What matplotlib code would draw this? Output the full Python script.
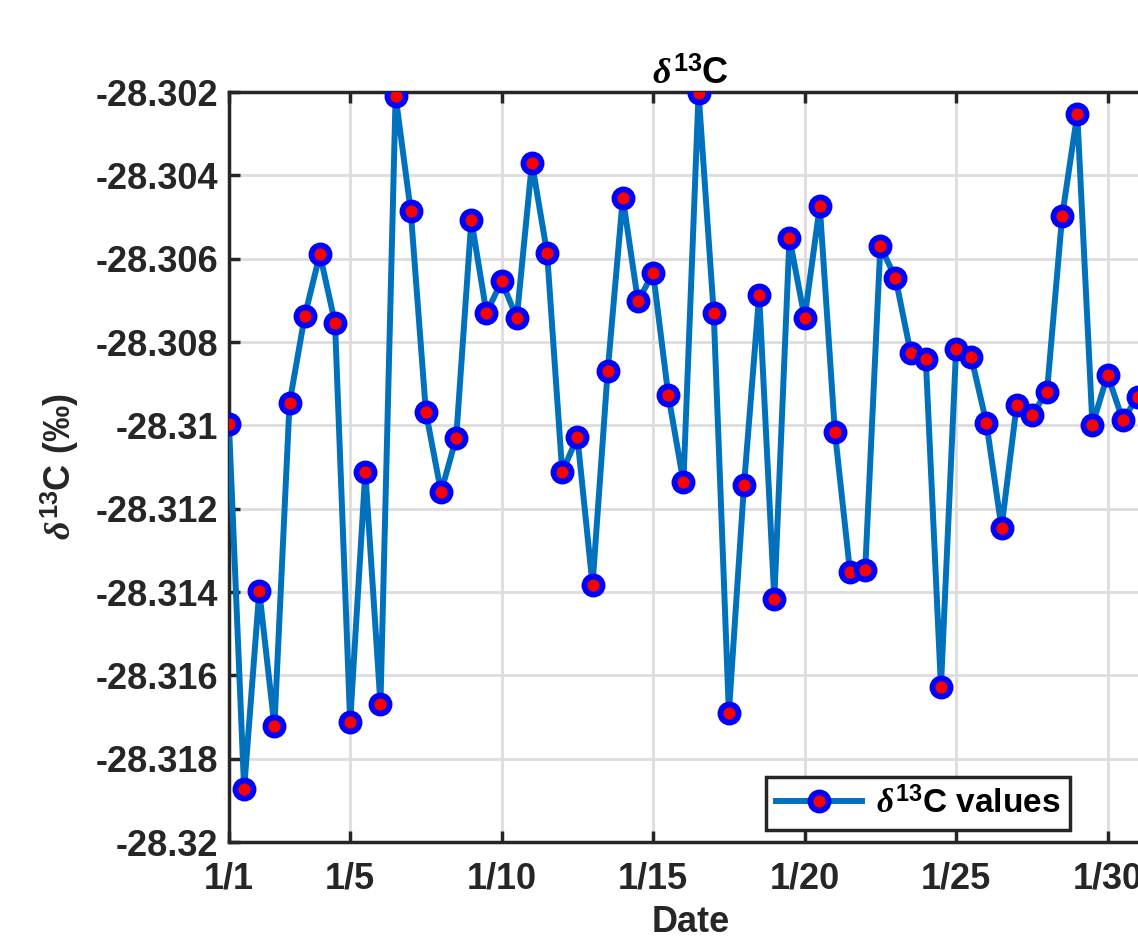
import matplotlib
matplotlib.use("Agg")
import matplotlib.pyplot as plt
import matplotlib.dates as mdates
from matplotlib.ticker import FuncFormatter
import numpy as np
import pandas as pd

# half-daily d13C readings, January
start = "2024-01-01 00:00"
step = "12h"
d13c = [-28.30997, -28.31873, -28.31398, -28.31722, -28.30946, -28.30738, -28.30589, -28.30754,
        -28.31712, -28.31112, -28.31669, -28.30210, -28.30486, -28.30968, -28.31160, -28.31030,
        -28.30507, -28.30730, -28.30654, -28.30742, -28.30370, -28.30586, -28.31112, -28.31028,
        -28.31383, -28.30870, -28.30454, -28.30702, -28.30634, -28.30927, -28.31136, -28.30202,
        -28.30730, -28.31690, -28.31143, -28.30687, -28.31417, -28.30550, -28.30742, -28.30474,
        -28.31016, -28.31352, -28.31347, -28.30570, -28.30646, -28.30826, -28.30841, -28.31628,
        -28.30817, -28.30836, -28.30994, -28.31246, -28.30951, -28.30975, -28.30920, -28.30498,
        -28.30253, -28.30999, -28.30879, -28.30987, -28.30932]
tick_days = [1, 5, 10, 15, 20, 25, 30]
ytick_vals = [-28.32, -28.318, -28.316, -28.314, -28.312, -28.31, -28.308, -28.306, -28.304, -28.302]

dates = pd.date_range(start, periods=len(d13c), freq=step)

plt.rcParams["font.family"] = ["Liberation Sans", "DejaVu Sans"]
plt.rcParams["font.weight"] = "bold"
plt.rcParams["mathtext.fontset"] = "custom"
plt.rcParams["mathtext.rm"] = "Liberation Sans:bold"
plt.rcParams["mathtext.it"] = "Liberation Serif:italic"
plt.rcParams["mathtext.bf"] = "Liberation Sans:bold"

axcol = "#262626"
fig = plt.figure(figsize=(11.38, 9.43), dpi=100)
ax = fig.add_axes([0.2012, 0.1071, 0.812, 0.7953])

ax.plot(dates, d13c, "-o", color="#0072BD", lw=4.3, ms=13, mew=4.2,
        mec="blue", mfc="red", label=r"$\mathit{\delta}^{\mathbf{13}}$C values", zorder=3)

ax.set_ylim(-28.32, -28.302)
ax.set_xlim(pd.Timestamp("2024-01-01 00:00"), pd.Timestamp("2024-01-31 12:00"))
ax.set_yticks(ytick_vals)
ax.yaxis.set_major_formatter(FuncFormatter(lambda v, p: ("%.3f" % v).rstrip("0").rstrip(".")))
ax.set_xticks([pd.Timestamp(2024, 1, d) for d in tick_days])
ax.xaxis.set_major_formatter(FuncFormatter(lambda v, p: "%d/%d" % (mdates.num2date(v).month, mdates.num2date(v).day)))

ax.grid(True, color="#dddddd", lw=2)
ax.set_axisbelow(True)
for s in ax.spines.values():
    s.set_linewidth(2.5)
    s.set_color(axcol)
ax.tick_params(direction="in", length=8, width=2.5, colors=axcol, labelsize=26,
               top=True, right=True)
ax.tick_params(axis="x", pad=14)
ax.tick_params(axis="y", pad=8)
for lbl in ax.get_xticklabels() + ax.get_yticklabels():
    lbl.set_fontweight("bold")

ax.set_title(r"$\mathit{\delta}^{\mathbf{13}}$C", fontsize=26, fontweight="bold", color="black", pad=6)
ax.set_ylabel(r"$\mathit{\delta}^{\mathbf{13}}$C (‰)", fontsize=26, fontweight="bold", color=axcol, labelpad=10)
ax.set_xlabel("Date", fontsize=26, fontweight="bold", color=axcol, labelpad=6)

leg = ax.legend(loc="lower right", bbox_to_anchor=(1070 / 1138, 113 / 943),
                bbox_transform=fig.transFigure, fontsize=24, frameon=True, fancybox=False,
                handlelength=2.6, borderpad=0.3, handletextpad=0.4, borderaxespad=0)
leg.get_frame().set_edgecolor(axcol)
leg.get_frame().set_linewidth(2.5)
leg.get_frame().set_alpha(1)

fig.savefig("out.png", dpi=100)
plt.close()
